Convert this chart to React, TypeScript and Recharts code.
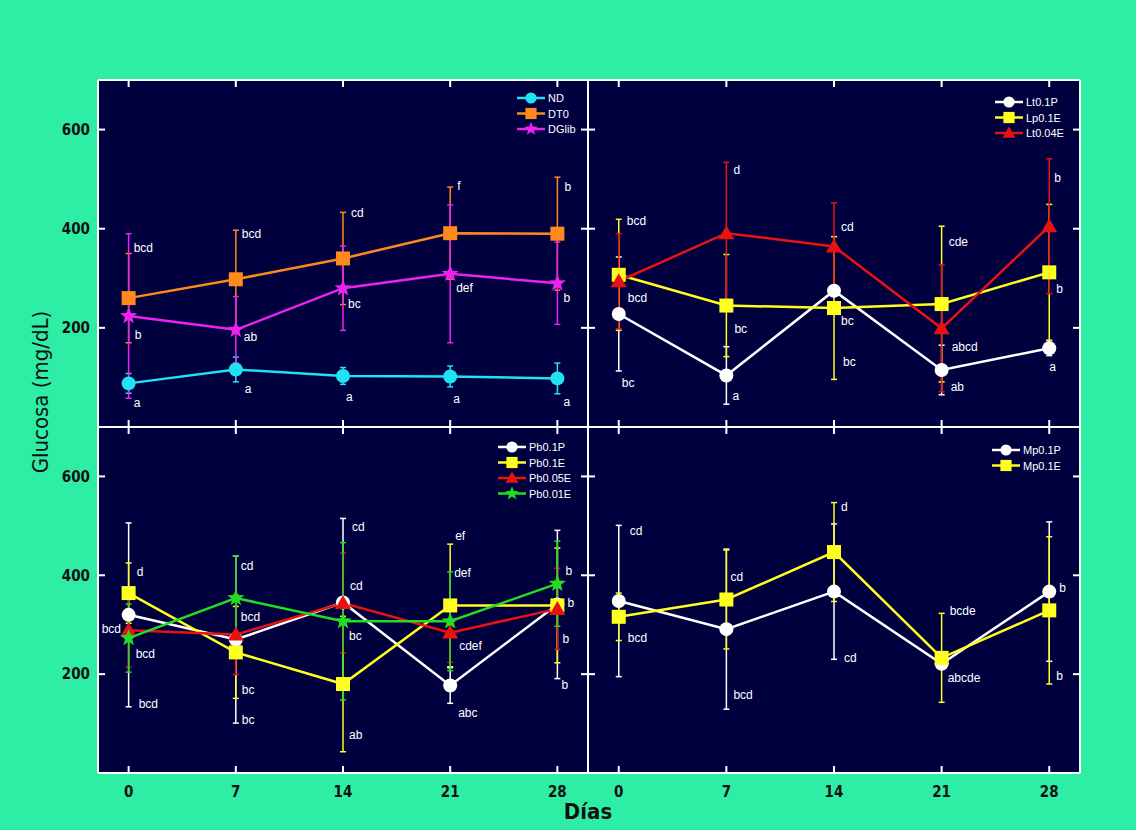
import { LineChart, Line, XAxis, YAxis, ErrorBar, Legend, Label } from 'recharts';

const days = [0, 7, 14, 21, 28];
const yTicks = [200, 400, 600];

// Diabetic controls
const ndMean = [88, 116, 103, 102, 98];
const ndErr = [20, 25, 17, 21, 31];
const ndLetters = ['a', 'a', 'a', 'a', 'a'];
const dt0Mean = [260, 298, 340, 391, 390];
const dt0Err = [90, 99, 93, 93, 114];
const dt0Letters = ['bcd', 'bcd', 'cd', 'f', 'b'];
const dglibMean = [224, 196, 280, 309, 290];
const dglibErr = [166, 67, 85, 139, 83];
const dglibLetters = ['b', 'ab', 'bc', 'def', 'b'];

// Lt / Lp extracts
const lt01pMean = [228, 104, 275, 115, 159];
const lt01pErr = [115, 58, 10, 50, 15];
const lt01pLetters = ['bc', 'a', 'bc', 'ab', 'a'];
const lp01eMean = [307, 245, 240, 248, 312];
const lp01eErr = [112, 103, 144, 157, 137];
const lp01eLetters = ['bcd', 'bc', 'bc', 'cde', 'b'];
const lt004eMean = [294, 391, 364, 199, 405];
const lt004eErr = [96, 143, 88, 128, 136];
const lt004eLetters = ['bcd', 'd', 'cd', 'abcd', 'b'];

// Pb extracts
const pb01pMean = [320, 270, 345, 177, 341];
const pb01pErr = [186, 169, 170, 36, 150];
const pb01pLetters = ['bcd', 'bc', 'cd', 'abc', 'b'];
const pb01eMean = [364, 244, 180, 339, 339];
const pb01eErr = [61, 93, 137, 124, 116];
const pb01eLetters = ['d', 'bc', 'ab', 'ef', 'b'];
const pb005eMean = [289, 280, 344, 284, 332];
const pb005eErr = [75, 81, 101, 60, 82];
const pb005eLetters = ['bcd', 'bcd', 'cd', 'cdef', 'b'];
const pb001eMean = [273, 354, 307, 307, 383];
const pb001eErr = [69, 85, 159, 100, 86];
const pb001eLetters = ['bcd', 'cd', 'bc', 'def', 'b'];

// Mp extracts
const mp01pMean = [348, 291, 367, 221, 367];
const mp01pErr = [153, 162, 137, 10, 141];
const mp01pLetters = ['cd', 'bcd', 'cd', 'abcde', 'b'];
const mp01eMean = [316, 351, 447, 233, 329];
const mp01eErr = [48, 100, 100, 90, 149];
const mp01eLetters = ['bcd', 'cd', 'd', 'bcde', 'b'];

const FONT = '"Liberation Sans", Arial, sans-serif';
const NARROW = '"Liberation Sans Narrow", "DejaVu Sans Condensed", "Arial Narrow", sans-serif';
const MINT = '#2eeea6';
const NAVY = '#00003f';

type Shape = 'circle' | 'square' | 'triangle' | 'star';
type Series = {
  key: string;
  name: string;
  color: string;
  shape: Shape;
  mean: number[];
  err: number[];
  letters: string[];
  place: number[][]; // letter offset from the marker, px
};

const panelA: Series[] = [
  { key: 'nd', name: 'ND', color: '#1fe3f2', shape: 'circle', mean: ndMean, err: ndErr, letters: ndLetters,
    place: [[5, 20], [9, 20], [3, 21], [3, 23], [6, 24]] },
  { key: 'dt0', name: 'DT0', color: '#ff8a1c', shape: 'square', mean: dt0Mean, err: dt0Err, letters: dt0Letters,
    place: [[5, -50], [6, -45], [8, -45], [7, -47], [7, -47]] },
  { key: 'dglib', name: 'DGlib', color: '#ee22ee', shape: 'star', mean: dglibMean, err: dglibErr, letters: dglibLetters,
    place: [[6, 19], [8, 7], [5, 16], [6, 14], [6, 15]] },
];

const panelB: Series[] = [
  { key: 'lt01p', name: 'Lt0.1P', color: '#ffffff', shape: 'circle', mean: lt01pMean, err: lt01pErr, letters: lt01pLetters,
    place: [[3, 69], [6, 21], [7, 30], [9, 17], [0, 19]] },
  { key: 'lp01e', name: 'Lp0.1E', color: '#ffff1e', shape: 'square', mean: lp01eMean, err: lp01eErr, letters: lp01eLetters,
    place: [[8, -54], [8, 23], [9, 54], [7, -62], [7, 17]] },
  { key: 'lt004e', name: 'Lt0.04E', color: '#e81212', shape: 'triangle', mean: lt004eMean, err: lt004eErr, letters: lt004eLetters,
    place: [[9, 17], [7, -63], [7, -20], [10, 19], [5, -48]] },
];

const panelC: Series[] = [
  { key: 'pb01p', name: 'Pb0.1P', color: '#ffffff', shape: 'circle', mean: pb01pMean, err: pb01pErr, letters: pb01pLetters,
    place: [[10, 89], [6, 80], [9, -75], [8, 27], [4, 81]] },
  { key: 'pb01e', name: 'Pb0.1E', color: '#ffff1e', shape: 'square', mean: pb01eMean, err: pb01eErr, letters: pb01eLetters,
    place: [[8, -21], [6, 38], [6, 51], [5, -69], [10, -2]] },
  { key: 'pb005e', name: 'Pb0.05E', color: '#e81212', shape: 'triangle', mean: pb005eMean, err: pb005eErr, letters: pb005eLetters,
    place: [[-27, -1], [5, -18], [7, -17], [9, 13], [5, 30]] },
  { key: 'pb001e', name: 'Pb0.01E', color: '#22dd22', shape: 'star', mean: pb001eMean, err: pb001eErr, letters: pb001eLetters,
    place: [[7, 16], [5, -32], [6, 15], [4, -48], [8, -13]] },
];

const panelD: Series[] = [
  { key: 'mp01p', name: 'Mp0.1P', color: '#ffffff', shape: 'circle', mean: mp01pMean, err: mp01pErr, letters: mp01pLetters,
    place: [[11, -70], [7, 66], [10, 66], [6, 14], [10, -4]] },
  { key: 'mp01e', name: 'Mp0.1E', color: '#ffff1e', shape: 'square', mean: mp01eMean, err: mp01eErr, letters: mp01eLetters,
    place: [[9, 21], [4, -23], [7, -45], [8, -47], [7, 66]] },
];

function Marker({ shape, cx, cy, color, k = 1 }: { shape: Shape; cx: number; cy: number; color: string; k?: number }) {
  if (shape === 'circle') return <circle cx={cx} cy={cy} r={7 * k} fill={color} />;
  if (shape === 'square') {
    const h = 7 * k;
    return <rect x={cx - h} y={cy - h} width={2 * h} height={2 * h} fill={color} />;
  }
  if (shape === 'triangle') {
    const h = 8 * k;
    return <polygon points={`${cx},${cy - h} ${cx + h},${cy + 0.75 * h} ${cx - h},${cy + 0.75 * h}`} fill={color} />;
  }
  const pts: string[] = [];
  for (let i = 0; i < 10; i++) {
    const r = (i % 2 === 0 ? 9 : 3.8) * k;
    const a = -Math.PI / 2 + (i * Math.PI) / 5;
    pts.push(`${cx + r * Math.cos(a)},${cy + r * Math.sin(a)}`);
  }
  return <polygon points={pts.join(' ')} fill={color} />;
}

function LegendBox({ series }: { series: Series[] }) {
  const step = 15.5;
  return (
    <svg width={90} height={series.length * step + 2} style={{ display: 'block' }}>
      {series.map((s, i) => {
        const cy = 8 + i * step;
        return (
          <g key={s.key}>
            <line x1={0} x2={28} y1={cy} y2={cy} stroke={s.color} strokeWidth={2.5} />
            <Marker shape={s.shape} cx={14} cy={cy} color={s.color} k={0.8} />
            <text x={31} y={cy} dominantBaseline="central" fill="#fff" fontSize={11} fontFamily={FONT}>
              {s.name}
            </text>
          </g>
        );
      })}
    </svg>
  );
}

const frame = { stroke: '#ffffff', strokeWidth: 2 };
const tickMark = { stroke: '#ffffff', strokeWidth: 2 };
const labelTick = { fill: '#111', fontSize: 15, fontWeight: 700, fontFamily: NARROW };
// frame ticks only: the tick text is left empty
const noText = () => <g />;

type PanelProps = {
  series: Series[];
  left: number;
  top: number;
  plotW: number;
  plotH: number;
  yLabels?: boolean;
  xLabels?: boolean;
  legendAt: [number, number];
  yTitle?: boolean;
  xTitle?: boolean;
};

function Panel({ series, left, top, plotW, plotH, yLabels, xLabels, legendAt, yTitle, xTitle }: PanelProps) {
  const labW = yLabels ? 88 : 0;
  const labH = xLabels ? 57 : 0;
  const rows = days.map((d, i) => {
    const r: Record<string, number> = { day: d };
    series.forEach((s) => {
      r[s.key] = s.mean[i];
      r[s.key + 'Err'] = s.err[i];
    });
    return r;
  });

  return (
    <div style={{ position: 'absolute', left: left - labW, top }}>
      <LineChart width={plotW + labW} height={plotH + labH} data={rows} margin={{ top: 0, right: 0, bottom: 0, left: 0 }}>
        <XAxis xAxisId="x" dataKey="day" type="number" domain={[-2, 30]} ticks={days} interval={0} orientation="bottom" mirror
          tick={noText} tickSize={7} axisLine={frame} tickLine={tickMark} />
        <XAxis xAxisId="t" dataKey="day" type="number" domain={[-2, 30]} ticks={days} interval={0} orientation="top" mirror
          tick={noText} tickSize={7} axisLine={frame} tickLine={tickMark} />
        <YAxis yAxisId="y" type="number" domain={[0, 700]} ticks={yTicks} interval={0} orientation="left" mirror
          tick={noText} tickSize={7} axisLine={frame} tickLine={tickMark} />
        <YAxis yAxisId="r" type="number" domain={[0, 700]} ticks={yTicks} interval={0} orientation="right" mirror allowDataOverflow
          tick={noText} tickSize={7} axisLine={frame} tickLine={tickMark} />
        {yLabels && (
          <YAxis yAxisId="lab" type="number" domain={[0, 700]} ticks={yTicks} interval={0} orientation="left" width={labW}
            allowDataOverflow axisLine={false} tickLine={false} tickSize={0} tickMargin={8} tick={labelTick}>
            {yTitle && (
              <Label
                content={(p: any) => {
                  const vb = p.viewBox || { x: 0, y: 0 };
                  const cx = vb.x + 30;
                  const cy = vb.y + 312;
                  return (
                    <text x={cx} y={cy} transform={`rotate(-90, ${cx}, ${cy})`} textAnchor="middle"
                      dominantBaseline="central" fill="#111" fontSize={22} fontFamily={NARROW}>
                      Glucosa (mg/dL)
                    </text>
                  );
                }}
              />
            )}
          </YAxis>
        )}
        {xLabels && (
          <XAxis xAxisId="lab" dataKey="day" type="number" domain={[-2, 30]} ticks={days} interval={0} orientation="bottom" height={labH}
            axisLine={false} tickLine={false} tickSize={0} tickMargin={13} tick={labelTick}>
            {xTitle && (
              <Label
                content={(p: any) => {
                  const vb = p.viewBox || { x: 0, y: 0, width: 0 };
                  return (
                    <text x={vb.x + vb.width} y={vb.y + 38} textAnchor="middle" dominantBaseline="central"
                      fill="#111" fontSize={22} fontWeight={700} fontFamily={NARROW}>
                      Días
                    </text>
                  );
                }}
              />
            )}
          </XAxis>
        )}
        <Legend
          layout="vertical"
          align="center"
          verticalAlign="middle"
          wrapperStyle={{ left: labW + legendAt[0], top: legendAt[1] - 8, width: 'auto', height: 'auto' }}
          content={() => <LegendBox series={series} />}
        />
        {series.map((s) => (
          <Line
            key={s.key}
            xAxisId="x"
            yAxisId="y"
            dataKey={s.key}
            stroke={s.color}
            strokeWidth={2.5}
            isAnimationActive={false}
            activeDot={false}
            dot={(p: any) => {
              const [dx, dy] = s.place[p.index];
              return (
                <g key={`${s.key}-${p.index}`}>
                  <Marker shape={s.shape} cx={p.cx} cy={p.cy} color={s.color} />
                  <text x={p.cx + dx} y={p.cy + dy} fill="#fff" fontSize={12} fontFamily={FONT} dominantBaseline="central">
                    {s.letters[p.index]}
                  </text>
                </g>
              );
            }}
          >
            <ErrorBar dataKey={s.key + 'Err'} direction="y" width={3} stroke={s.color} strokeWidth={1.5} isAnimationActive={false} />
          </Line>
        ))}
      </LineChart>
    </div>
  );
}

export default function App() {
  return (
    <div style={{ position: 'absolute', left: 0, top: 0, width: 1136, height: 830, background: MINT, overflow: 'hidden' }}>
      <style>{`.recharts-surface{overflow:visible}`}</style>
      <div style={{ position: 'absolute', left: 98, top: 80, width: 982, height: 693, background: NAVY }} />
      <Panel series={panelA} left={98} top={80} plotW={490} plotH={347} yLabels yTitle legendAt={[419, 18]} />
      <Panel series={panelB} left={588} top={80} plotW={492} plotH={347} legendAt={[407, 22]} />
      <Panel series={panelC} left={98} top={427} plotW={490} plotH={346} yLabels xLabels xTitle legendAt={[400, 20]} />
      <Panel series={panelD} left={588} top={427} plotW={492} plotH={346} xLabels legendAt={[404, 23]} />
    </div>
  );
}
